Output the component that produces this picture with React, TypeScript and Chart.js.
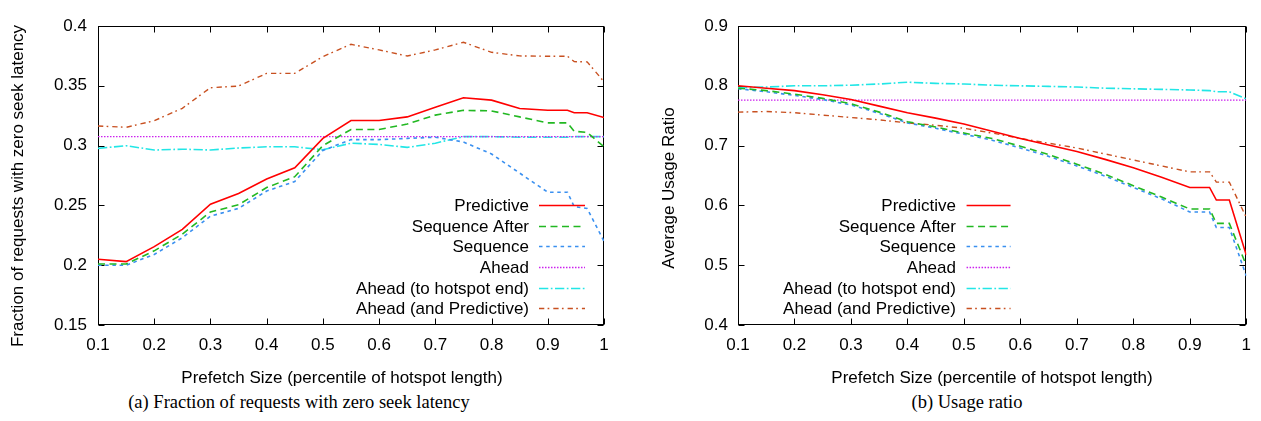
import { useEffect, useRef } from "react";
import { Chart, registerables } from "chart.js";

Chart.register(...registerables);

// ---------- data ----------
const xValues = [0.1, 0.15, 0.2, 0.25, 0.3, 0.35, 0.4, 0.45, 0.5, 0.55, 0.6, 0.65, 0.7, 0.75, 0.8, 0.85, 0.9, 0.935, 0.947, 0.97, 1.0];
const xTicks = [0.1, 0.2, 0.3, 0.4, 0.5, 0.6, 0.7, 0.8, 0.9, 1];
const yTicksA = [0.15, 0.2, 0.25, 0.3, 0.35, 0.4];
const yTicksB = [0.4, 0.5, 0.6, 0.7, 0.8, 0.9];

const seriesNames = ["Predictive", "Sequence After", "Sequence", "Ahead", "Ahead (to hotspot end)", "Ahead (and Predictive)"];

// (a) Fraction of requests with zero seek latency
const zeroPredictive = [0.205, 0.203, 0.2155, 0.23, 0.251, 0.26, 0.272, 0.2815, 0.306, 0.321, 0.321, 0.324, 0.332, 0.34, 0.338, 0.331, 0.3295, 0.3295, 0.3275, 0.3275, 0.3235];
const zeroSeqAfter = [0.201, 0.201, 0.212, 0.226, 0.2445, 0.2505, 0.265, 0.274, 0.3, 0.3135, 0.3135, 0.318, 0.3255, 0.3295, 0.329, 0.324, 0.319, 0.319, 0.312, 0.311, 0.299];
const zeroSequence = [0.2, 0.2, 0.209, 0.223, 0.241, 0.2475, 0.262, 0.27, 0.296, 0.305, 0.305, 0.306, 0.307, 0.303, 0.293, 0.277, 0.261, 0.261, 0.249, 0.2475, 0.22];
const zeroAhead = [0.3075, 0.3075, 0.3075, 0.3075, 0.3075, 0.3075, 0.3075, 0.3075, 0.3075, 0.3075, 0.3075, 0.3075, 0.3075, 0.3075, 0.3075, 0.3075, 0.3075, 0.3075, 0.3075, 0.3075, 0.3075];
const zeroAheadEnd = [0.2977, 0.2999, 0.2963, 0.297, 0.2963, 0.298, 0.299, 0.299, 0.2965, 0.302, 0.301, 0.2985, 0.302, 0.3075, 0.3075, 0.307, 0.307, 0.307, 0.3075, 0.3075, 0.3075];
const zeroAheadPred = [0.3164, 0.3153, 0.3208, 0.3312, 0.3484, 0.3498, 0.3604, 0.3604, 0.3744, 0.3847, 0.38, 0.3749, 0.38, 0.3864, 0.378, 0.375, 0.3747, 0.3747, 0.3702, 0.37, 0.3534];

// (b) Average usage ratio
const usagePredictive = [0.8, 0.796, 0.792, 0.785, 0.777, 0.766, 0.755, 0.746, 0.736, 0.724, 0.712, 0.701, 0.69, 0.677, 0.663, 0.647, 0.63, 0.63, 0.609, 0.609, 0.517];
const usageSeqAfter = [0.796, 0.792, 0.786, 0.779, 0.77, 0.756, 0.74, 0.731, 0.721, 0.712, 0.699, 0.685, 0.669, 0.652, 0.633, 0.614, 0.594, 0.594, 0.57, 0.57, 0.5];
const usageSequence = [0.795, 0.79, 0.784, 0.777, 0.768, 0.754, 0.738, 0.729, 0.719, 0.709, 0.696, 0.682, 0.666, 0.649, 0.63, 0.611, 0.589, 0.589, 0.563, 0.563, 0.482];
const usageAhead = [0.776, 0.776, 0.776, 0.776, 0.776, 0.776, 0.776, 0.776, 0.776, 0.776, 0.776, 0.776, 0.776, 0.776, 0.776, 0.776, 0.776, 0.776, 0.776, 0.776, 0.776];
const usageAheadEnd = [0.797, 0.798, 0.8, 0.8, 0.801, 0.803, 0.806, 0.804, 0.803, 0.801, 0.8, 0.799, 0.798, 0.796, 0.795, 0.794, 0.793, 0.792, 0.79, 0.79, 0.778];
const usageAheadPred = [0.756, 0.757, 0.755, 0.751, 0.747, 0.743, 0.738, 0.734, 0.729, 0.721, 0.712, 0.704, 0.696, 0.686, 0.676, 0.666, 0.656, 0.656, 0.639, 0.639, 0.58];

// ---------- styles ----------
const SANS = '"Liberation Sans", Arial, Helvetica, sans-serif';
const SERIF = '"Liberation Serif", "Times New Roman", serif';
const styles = [
  { color: "#ff0000", width: 1.6, dash: [] as number[] },
  { color: "#22b822", width: 1.6, dash: [7, 4.5] },
  { color: "#3a90f0", width: 1.6, dash: [3.5, 3.7] },
  { color: "#cc22ee", width: 1.4, dash: [1.5, 1.5] },
  { color: "#22e6e6", width: 1.6, dash: [9.3, 2.5, 1.7, 2.5] },
  { color: "#c85020", width: 1.4, dash: [5.3, 3.3, 1.7, 4] },
];

const gnuPlugin = {
  id: "gnu",
  beforeDatasetsDraw(chart: any, _args: any, opts: any) {
    const { ctx, chartArea: a, scales } = chart;
    ctx.save();
    ctx.strokeStyle = "#000";
    ctx.lineWidth = 1;
    ctx.setLineDash([]);
    const L = Math.round(a.left) + 0.5, R = Math.round(a.right) - 0.5;
    const T = Math.round(a.top) + 0.5, B = Math.round(a.bottom) - 0.5;
    ctx.strokeRect(L, T, R - L, B - T);
    const tl = 6;
    ctx.beginPath();
    for (const t of scales.x.ticks) {
      const px = Math.round(scales.x.getPixelForValue(t.value)) + 0.5;
      ctx.moveTo(px, B); ctx.lineTo(px, B - tl);
      ctx.moveTo(px, T); ctx.lineTo(px, T + tl);
    }
    for (const t of scales.y.ticks) {
      const py = Math.round(scales.y.getPixelForValue(t.value)) + 0.5;
      ctx.moveTo(L, py); ctx.lineTo(L + tl, py);
      ctx.moveTo(R, py); ctx.lineTo(R - tl, py);
    }
    ctx.stroke();
    ctx.fillStyle = "#000";
    ctx.font = `17px ${SANS}`;
    ctx.textAlign = "center";
    ctx.textBaseline = "middle";
    // x title
    ctx.fillText(opts.xTitle, opts.xTitleX, opts.xTitleY);
    // y title
    ctx.translate(opts.yTitleX, opts.yTitleY);
    ctx.rotate(-Math.PI / 2);
    ctx.fillText(opts.yTitle, 0, 0);
    ctx.restore();
  },
  afterDatasetsDraw(chart: any, _args: any, opts: any) {
    const { ctx, chartArea: a } = chart;
    ctx.save();
    ctx.font = `17px ${SANS}`;
    ctx.textAlign = "right";
    ctx.textBaseline = "alphabetic";
    chart.data.datasets.forEach((ds: any, i: number) => {
      const y = Math.round(a.bottom - opts.legendBottom + i * 20.67);
      ctx.fillStyle = "#000";
      ctx.fillText(ds.label, a.right - opts.textRight, y + 6);
      ctx.strokeStyle = ds.borderColor;
      ctx.lineWidth = ds.borderWidth;
      ctx.setLineDash(ds.borderDash || []);
      ctx.beginPath();
      ctx.moveTo(a.right - opts.lineStart, y + 0.5);
      ctx.lineTo(a.right - opts.lineEnd, y + 0.5);
      ctx.stroke();
    });
    ctx.restore();
  },
};

function makeConfig(series: number[][], yMin: number, yMax: number, yTicks: number[], plug: any, padRight: number, yPad: number) {
  return {
    type: "line",
    data: {
      datasets: series.map((vals, i) => ({
        label: seriesNames[i],
        data: xValues.map((x, j) => ({ x, y: vals[j] })),
        borderColor: styles[i].color,
        backgroundColor: styles[i].color,
        borderWidth: styles[i].width,
        borderDash: styles[i].dash,
        pointRadius: 0,
        tension: 0,
        fill: false,
      })),
    },
    plugins: [gnuPlugin],
    options: {
      animation: false,
      responsive: false,
      devicePixelRatio: 1,
      layout: { padding: { top: 26, right: padRight, left: 0, bottom: 0 } },
      plugins: { legend: { display: false }, tooltip: { enabled: false }, gnu: plug },
      scales: {
        x: {
          type: "linear",
          min: 0.1,
          max: 1,
          afterBuildTicks: (s: any) => { s.ticks = xTicks.map((v) => ({ value: v })); },
          afterFit: (s: any) => { s.height = 65; },
          grid: { display: false, drawTicks: false },
          border: { display: false },
          ticks: { color: "#000", font: { family: SANS, size: 17 }, padding: 10, maxRotation: 0, autoSkip: false, callback: (v: number) => String(v) },
          title: { display: false },
        },
        y: {
          type: "linear",
          min: yMin,
          max: yMax,
          afterBuildTicks: (s: any) => { s.ticks = yTicks.map((v) => ({ value: v })); },
          afterFit: (s: any) => { s.width = 98; },
          grid: { display: false, drawTicks: false },
          border: { display: false },
          ticks: { color: "#000", font: { family: SANS, size: 17 }, padding: yPad, autoSkip: false, callback: (v: number) => String(v) },
        },
      },
    },
  } as any;
}

function ChartCanvas({ config, width, height }: { config: any; width: number; height: number }) {
  const ref = useRef<HTMLCanvasElement | null>(null);
  useEffect(() => {
    if (!ref.current) return;
    const chart = new Chart(ref.current, config);
    return () => chart.destroy();
  }, [config]);
  return <canvas ref={ref} width={width} height={height} style={{ width, height, display: "block" }} />;
}

const X_TITLE = "Prefetch Size (percentile of hotspot length)";

const configA = makeConfig(
  [zeroPredictive, zeroSeqAfter, zeroSequence, zeroAhead, zeroAheadEnd, zeroAheadPred],
  0.15, 0.4, yTicksA,
  { yTitle: "Fraction of requests with zero seek latency", yTitleX: 18, yTitleY: 186, xTitle: X_TITLE, xTitleX: 342, xTitleY: 378, legendBottom: 120, textRight: 75, lineStart: 65, lineEnd: 19 },
  26, 11
);
const configB = makeConfig(
  [usagePredictive, usageSeqAfter, usageSequence, usageAhead, usageAheadEnd, usageAheadPred],
  0.4, 0.9, yTicksB,
  { yTitle: "Average Usage Ratio", yTitleX: 29, yTitleY: 188, xTitle: X_TITLE, xTitleX: 352, xTitleY: 378, legendBottom: 120, textRight: 290.3, lineStart: 279.7, lineEnd: 235.7 },
  8, 10
);

const captionStyle = { position: "absolute" as const, width: 400, top: 391, height: 22, lineHeight: "22px", textAlign: "center" as const, fontFamily: SERIF, fontSize: 18.5, color: "#000", whiteSpace: "nowrap" as const };

export default function App() {
  return (
    <div style={{ position: "absolute", left: 0, top: 0, width: 1261, height: 421, background: "#fff", overflow: "hidden" }}>
      <div style={{ position: "absolute", left: 0, top: 0 }}>
        <ChartCanvas config={configA} width={630} height={390} />
      </div>
      <div style={{ position: "absolute", left: 640, top: 0 }}>
        <ChartCanvas config={configB} width={621} height={390} />
      </div>
      <div style={{ ...captionStyle, left: 99 }}>(a) Fraction of requests with zero seek latency</div>
      <div style={{ ...captionStyle, left: 767 }}>(b) Usage ratio</div>
    </div>
  );
}
